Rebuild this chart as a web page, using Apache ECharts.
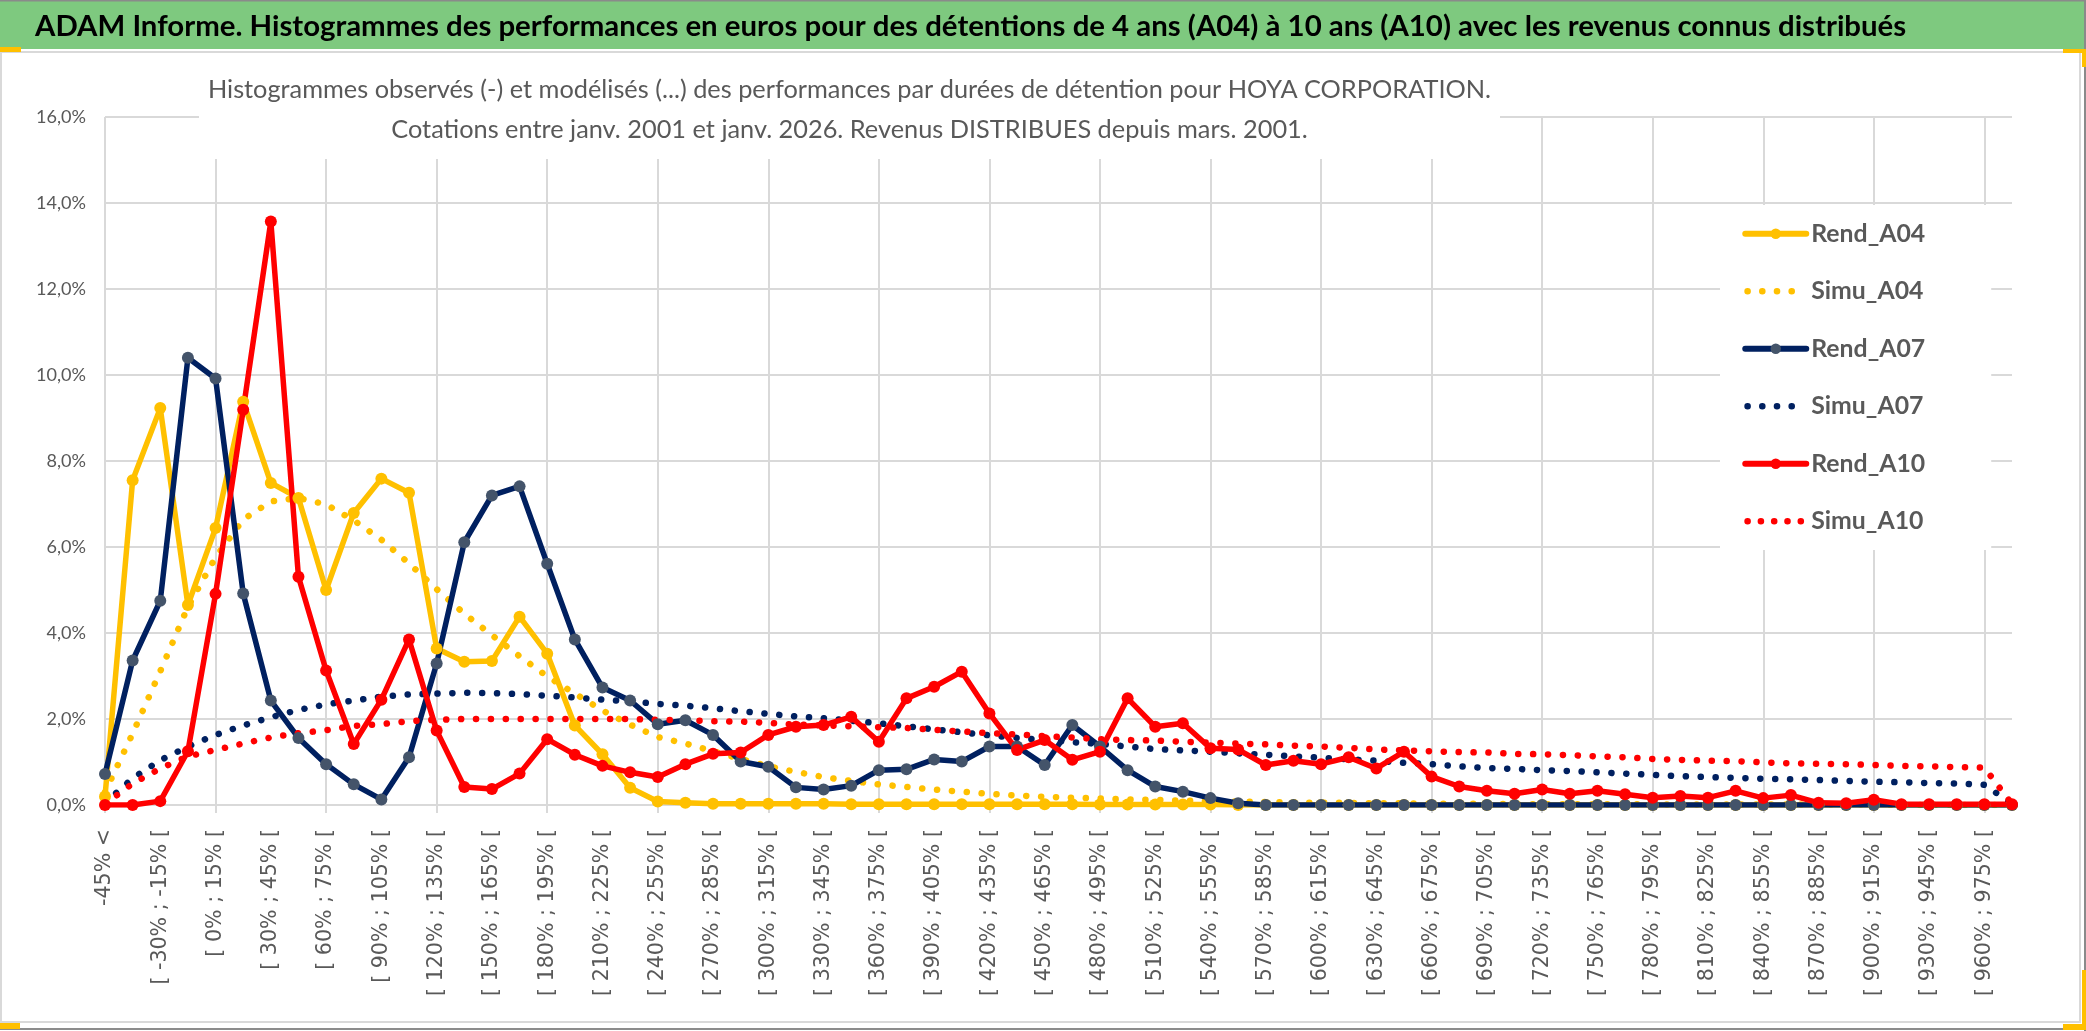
<!DOCTYPE html>
<html><head><meta charset="utf-8">
<script src="https://cdn.jsdelivr.net/npm/echarts@6/dist/echarts.min.js"></script>
<style>html,body{margin:0;padding:0;background:#fff;overflow:hidden}#c{width:2086px;height:1031px}</style>
</head><body><div id="c"></div>
<script>
// ---------- DATA ----------
const categories = ["-45% <","[ -45% ; -30% [","[ -30% ; -15% [","[ -15% ; 0% [","[ 0% ; 15% [","[ 15% ; 30% [","[ 30% ; 45% [","[ 45% ; 60% [","[ 60% ; 75% [","[ 75% ; 90% [",
"[ 90% ; 105% [","[ 105% ; 120% [","[ 120% ; 135% [","[ 135% ; 150% [","[ 150% ; 165% [","[ 165% ; 180% [","[ 180% ; 195% [","[ 195% ; 210% [","[ 210% ; 225% [","[ 225% ; 240% [",
"[ 240% ; 255% [","[ 255% ; 270% [","[ 270% ; 285% [","[ 285% ; 300% [","[ 300% ; 315% [","[ 315% ; 330% [","[ 330% ; 345% [","[ 345% ; 360% [","[ 360% ; 375% [","[ 375% ; 390% [",
"[ 390% ; 405% [","[ 405% ; 420% [","[ 420% ; 435% [","[ 435% ; 450% [","[ 450% ; 465% [","[ 465% ; 480% [","[ 480% ; 495% [","[ 495% ; 510% [","[ 510% ; 525% [","[ 525% ; 540% [",
"[ 540% ; 555% [","[ 555% ; 570% [","[ 570% ; 585% [","[ 585% ; 600% [","[ 600% ; 615% [","[ 615% ; 630% [","[ 630% ; 645% [","[ 645% ; 660% [","[ 660% ; 675% [","[ 675% ; 690% [",
"[ 690% ; 705% [","[ 705% ; 720% [","[ 720% ; 735% [","[ 735% ; 750% [","[ 750% ; 765% [","[ 765% ; 780% [","[ 780% ; 795% [","[ 795% ; 810% [","[ 810% ; 825% [","[ 825% ; 840% [",
"[ 840% ; 855% [","[ 855% ; 870% [","[ 870% ; 885% [","[ 885% ; 900% [","[ 900% ; 915% [","[ 915% ; 930% [","[ 930% ; 945% [","[ 945% ; 960% [","[ 960% ; 975% [","[ 975% ; 990% ["];

const rendA04 = [0.2,7.55,9.23,4.65,6.44,9.38,7.49,7.14,5.0,6.79,
 7.59,7.26,3.64,3.33,3.35,4.38,3.52,1.85,1.18,0.4,
 0.08,0.05,0.03,0.03,0.03,0.03,0.03,0.02,0.02,0.02,
 0.02,0.02,0.02,0.02,0.02,0.02,0.01,0.01,0.01,0.01,
 0.01,0,0,0,0,0,0,0,0,0,
 0,0,0,0,0,0,0,0,0,0,
 0,0,0,0,0,0,0,0,0,0];
const simuA04 = [0.3,1.66,3.11,4.61,5.76,6.64,7.06,7.14,6.99,6.62,
 6.17,5.62,5.02,4.45,3.95,3.46,2.99,2.59,2.2,1.87,
 1.58,1.43,1.25,1.07,0.9,0.77,0.65,0.56,0.48,0.42,
 0.36,0.31,0.26,0.22,0.19,0.17,0.15,0.13,0.12,0.1,
 0.09,0.08,0.07,0.06,0.05,0.05,0.04,0.04,0.03,0.03,
 0.03,0.02,0.02,0.02,0.02,0.02,0.01,0.01,0.01,0.01,
 0.01,0.01,0.01,0.01,0.01,0,0,0,0,0];
const rendA07 = [0.72,3.36,4.75,10.4,9.92,4.92,2.43,1.56,0.95,0.48,
 0.13,1.11,3.29,6.11,7.2,7.41,5.61,3.85,2.73,2.43,
 1.88,1.97,1.63,1.01,0.89,0.41,0.36,0.45,0.81,0.83,
 1.06,1.01,1.36,1.36,0.93,1.86,1.36,0.81,0.43,0.31,
 0.16,0.04,0,0,0,0,0,0,0,0,
 0,0,0,0,0,0,0,0,0,0,
 0,0,0,0,0,0,0,0,0,0];
const simuA07 = [0.05,0.62,1.04,1.36,1.63,1.85,2.04,2.21,2.34,2.43,
 2.52,2.57,2.59,2.61,2.6,2.58,2.54,2.5,2.45,2.41,
 2.35,2.31,2.25,2.18,2.12,2.06,2.02,1.96,1.9,1.83,
 1.76,1.69,1.62,1.56,1.51,1.46,1.42,1.36,1.3,1.27,
 1.24,1.2,1.17,1.13,1.1,1.06,1.03,0.98,0.95,0.9,
 0.86,0.84,0.81,0.79,0.76,0.73,0.7,0.67,0.65,0.63,
 0.61,0.6,0.58,0.56,0.54,0.53,0.51,0.5,0.47,0.03];
const rendA10 = [0,0,0.09,1.25,4.91,9.19,13.57,5.31,3.13,1.42,
 2.45,3.85,1.73,0.42,0.37,0.73,1.53,1.17,0.91,0.76,
 0.65,0.95,1.19,1.22,1.63,1.82,1.86,2.05,1.47,2.48,
 2.75,3.1,2.13,1.28,1.51,1.05,1.24,2.48,1.82,1.9,
 1.32,1.29,0.93,1.03,0.95,1.11,0.85,1.24,0.66,0.43,
 0.33,0.26,0.36,0.26,0.33,0.25,0.17,0.21,0.17,0.33,
 0.16,0.23,0.05,0.04,0.12,0.02,0.02,0.02,0.02,0.02];
const simuA10 = [0.02,0.5,0.85,1.13,1.28,1.43,1.57,1.67,1.74,1.84,
 1.88,1.95,1.98,2.0,2.0,2.0,2.0,2.0,2.0,2.0,
 1.98,1.97,1.95,1.94,1.91,1.87,1.85,1.83,1.81,1.79,
 1.75,1.71,1.67,1.64,1.6,1.57,1.53,1.51,1.5,1.47,
 1.45,1.43,1.41,1.38,1.36,1.33,1.29,1.27,1.25,1.23,
 1.22,1.19,1.18,1.16,1.13,1.11,1.07,1.05,1.03,1.02,
 0.99,0.97,0.96,0.95,0.93,0.91,0.9,0.88,0.87,0.02];
const yTicks = {min: 0, max: 16, step: 2};

const mainTitle = "ADAM Informe. Histogrammes des performances en euros pour des détentions de 4 ans (A04) à 10 ans (A10) avec les revenus connus distribués";
const subTitle1 = "Histogrammes observés (-) et modélisés (...) des performances par durées de détention pour HOYA CORPORATION.";
const subTitle2 = "Cotations entre janv. 2001 et janv. 2026. Revenus DISTRIBUES depuis mars. 2001.";

// ---------- FONTS ----------
const mctx = document.createElement('canvas').getContext('2d');
function fontAvailable(name) {
  const s = 'abcdefghijklmnopqrstuvwxyz ABCDEFGHIJKLM 0123456789';
  for (const base of ['monospace', 'serif']) {
    mctx.font = '40px ' + base; const w0 = mctx.measureText(s).width;
    mctx.font = '40px "' + name + '", ' + base; const w1 = mctx.measureText(s).width;
    if (Math.abs(w0 - w1) > 0.5) return true;
  }
  return false;
}
const SANS = ['Lato', 'Liberation Sans Narrow', 'DejaVu Sans Condensed', 'Liberation Sans'].find(fontAvailable) || 'sans-serif';
function fit(text, weight, family, target) {
  mctx.font = weight + ' 100px "' + family + '"';
  return 100 * target / mctx.measureText(text).width;
}
const fsTitle = fit(mainTitle, 'bold', SANS, 1872);
const fsSub = fit(subTitle1, 'normal', SANS, 1284);
const fsLeg = fit('Rend_A04', 'bold', SANS, 114);
const fsY = fit('16,0%', 'normal', SANS, 50);
const fsX = fit('[ 150% ; 165% [', 'normal', 'DejaVu Sans', 167);

// ---------- CHART ----------
const GRID = '#d9d9d9', TXT = '#595959', GOLD = '#ffc000';
const DOT = [0.1, 14.8];
function rend(name, data, line, mark) {
  return {name, type: 'line', data, symbol: 'circle', symbolSize: 12, showSymbol: true,
    lineStyle: {color: line, width: 5.5, cap: 'round', join: 'round'},
    itemStyle: {color: mark, borderWidth: 0},
    emphasis: {disabled: true}, animation: false};
}
function simu(name, data, color) {
  return {name, type: 'line', data, symbol: 'none', showSymbol: false,
    lineStyle: {color, width: 6.5, type: DOT, cap: 'round'},
    itemStyle: {color},
    emphasis: {disabled: true}, animation: false};
}
function box(x, y, w, h, fill, z) {
  return {type: 'rect', silent: true, z: z, shape: {x, y, width: w, height: h}, style: {fill}};
}
const chart = echarts.init(document.getElementById('c'), null, {renderer: 'canvas', width: 2086, height: 1031});
const hidden = {opacity: 0};
chart.setOption({
  backgroundColor: '#ffffff',
  animation: false,
  title: {text: mainTitle, left: 35, top: 7, padding: 0, z: 20,
    textStyle: {fontFamily: SANS, fontWeight: 'bold', fontSize: fsTitle, color: '#000000', lineHeight: 40}},
  grid: {left: 105, right: 74, top: 117, bottom: 226, containLabel: false, outerBoundsMode: 'none'},
  legend: {
    orient: 'vertical', left: 1720, top: 205, padding: [0, 66, 0, 22], itemGap: 0,
    itemWidth: 61, itemHeight: 13, backgroundColor: '#ffffff', selectedMode: false,
    textStyle: {fontFamily: SANS, fontWeight: 'bold', fontSize: fsLeg, color: TXT, lineHeight: 57.5},
    lineStyle: {width: 6},
    data: [
      {name: 'Rend_A04'},
      {name: 'Simu_A04', itemStyle: hidden, lineStyle: {width: 6.5, type: [0.1, 14.6], dashOffset: -2.3}},
      {name: 'Rend_A07'},
      {name: 'Simu_A07', itemStyle: hidden, lineStyle: {width: 6.5, type: [0.1, 14.6], dashOffset: -2.3}},
      {name: 'Rend_A10'},
      {name: 'Simu_A10', itemStyle: hidden, lineStyle: {width: 6.5, type: [0.1, 13.2], dashOffset: -2.3}}
    ]
  },
  xAxis: {
    type: 'category', data: categories, boundaryGap: false,
    axisLine: {show: true, lineStyle: {color: GRID, width: 2}},
    axisTick: {show: true, interval: 3, length: 8, lineStyle: {color: GRID, width: 2}},
    axisLabel: {interval: 1, rotate: 90, margin: 24, color: TXT, fontSize: fsX, fontFamily: 'DejaVu Sans'},
    splitLine: {show: true, interval: 3, lineStyle: {color: GRID, width: 2}}
  },
  yAxis: {
    type: 'value', min: yTicks.min, max: yTicks.max, interval: yTicks.step,
    axisLine: {show: false}, axisTick: {show: false},
    axisLabel: {margin: 19, color: TXT, fontSize: fsY, fontFamily: SANS,
      formatter: v => v.toFixed(1).replace('.', ',') + '%'},
    splitLine: {lineStyle: {color: GRID, width: 2}}
  },
  graphic: {elements: [
    box(0, 1, 2086, 48, '#7ec97f', -10),
    box(0, 0, 2086, 1.5, '#8a8a8a', -10),
    {type: 'rect', silent: true, z: -10, shape: {x: 1, y: 52, width: 2079, height: 970}, style: {fill: null, stroke: '#d9d9d9', lineWidth: 2}},
    box(2084, 0, 2, 1031, '#8a8a8a', -10),
    box(0, 1028, 2086, 2, '#8c8c8c', -10),
    box(0, 47, 21, 5, GOLD, 30),
    box(2063, 49, 23, 4, GOLD, 30),
    box(2082, 49, 4, 18, GOLD, 30),
    box(0, 1023, 20, 6, GOLD, 30),
    box(2082, 970, 4, 60, GOLD, 30),
    box(2063, 1024, 23, 6, GOLD, 30),
    box(199, 61, 1301, 98, '#ffffff', 40),
    {type: 'text', silent: true, z: 41, x: 849.5, y: 110,
      style: {text: subTitle1 + '\n' + subTitle2, fill: TXT, fontFamily: SANS, fontSize: fsSub,
        align: 'center', verticalAlign: 'middle', lineHeight: 40}}
  ]},
  series: [
    rend('Rend_A04', rendA04, '#ffc000', '#ffc000'),
    simu('Simu_A04', simuA04, '#ffc000'),
    rend('Rend_A07', rendA07, '#002060', '#44546a'),
    simu('Simu_A07', simuA07, '#002060'),
    rend('Rend_A10', rendA10, '#ff0000', '#ff0000'),
    simu('Simu_A10', simuA10, '#ff0000')
  ]
});
</script>
</body></html>
